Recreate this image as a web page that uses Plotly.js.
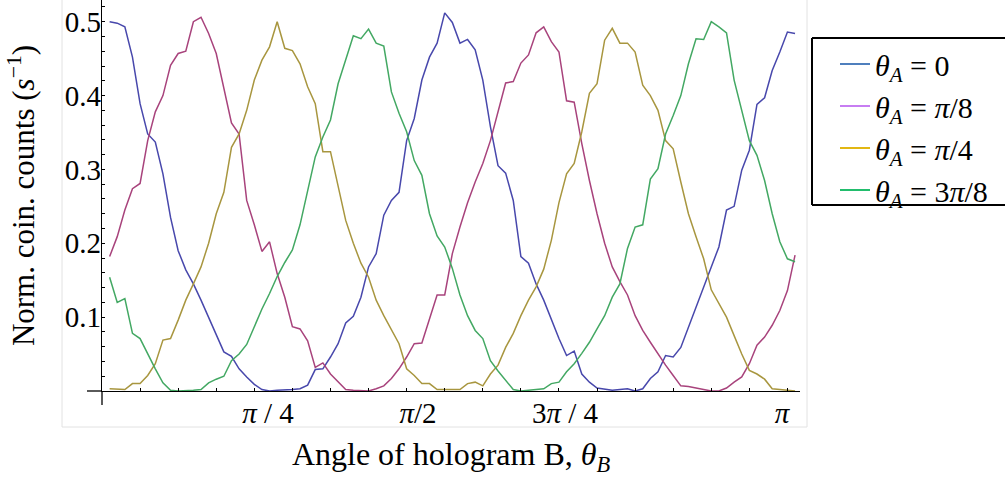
<!DOCTYPE html>
<html>
<head>
<meta charset="utf-8">
<script src="https://cdn.plot.ly/plotly-3.0.1.min.js"></script>
<style>
  html, body { margin: 0; padding: 0; background: #fff; }
  #chart { width: 1005px; height: 484px; }
</style>
</head>
<body>
<div id="chart"></div>
<script>
// Hologram B angle (degrees), one reading every 2 degrees
const thetaB = [
  2, 4, 6, 8, 10, 12, 14, 16, 18, 20, 22, 24, 26, 28, 30, 32, 34, 36, 38, 40,
  42, 44, 46, 48, 50, 52, 54, 56, 58, 60, 62, 64, 66, 68, 70, 72, 74, 76, 78, 80,
  82, 84, 86, 88, 90, 92, 94, 96, 98, 100, 102, 104, 106, 108, 110, 112, 114, 116, 118, 120,
  122, 124, 126, 128, 130, 132, 134, 136, 138, 140, 142, 144, 146, 148, 150, 152, 154, 156, 158, 160,
  162, 164, 166, 168, 170, 172, 174, 176, 178, 180, 182
];

// Normalised coincidence counts for each setting of hologram A
const countsA0 = [
  0.500, 0.498, 0.493, 0.452, 0.389, 0.348, 0.337, 0.294, 0.235, 0.190,
  0.164, 0.145, 0.123, 0.100, 0.075, 0.053, 0.047, 0.030, 0.019, 0.009,
  0.002, 0.000, 0.001, 0.001, 0.002, 0.003, 0.008, 0.029, 0.030, 0.046,
  0.064, 0.092, 0.101, 0.127, 0.168, 0.186, 0.238, 0.258, 0.269, 0.339,
  0.369, 0.421, 0.452, 0.471, 0.512, 0.499, 0.471, 0.476, 0.462, 0.421,
  0.358, 0.305, 0.295, 0.258, 0.182, 0.173, 0.145, 0.123, 0.096, 0.071,
  0.048, 0.054, 0.023, 0.012, 0.004, 0.002, 0.001, 0.002, 0.003, 0.000,
  0.003, 0.017, 0.026, 0.048, 0.046, 0.059, 0.087, 0.114, 0.141, 0.168,
  0.195, 0.245, 0.250, 0.299, 0.326, 0.388, 0.397, 0.434, 0.459, 0.486,
  0.484
];
const countsA1 = [
  0.182, 0.209, 0.245, 0.274, 0.281, 0.339, 0.378, 0.400, 0.441, 0.457,
  0.460, 0.500, 0.506, 0.484, 0.457, 0.412, 0.363, 0.348, 0.258, 0.225,
  0.189, 0.202, 0.159, 0.127, 0.087, 0.084, 0.068, 0.032, 0.038, 0.023,
  0.012, 0.002, 0.001, 0.001, 0.000, 0.003, 0.007, 0.017, 0.030, 0.046,
  0.064, 0.065, 0.096, 0.130, 0.130, 0.186, 0.222, 0.255, 0.283, 0.308,
  0.339, 0.380, 0.417, 0.419, 0.444, 0.455, 0.485, 0.493, 0.473, 0.459,
  0.393, 0.391, 0.335, 0.285, 0.240, 0.200, 0.168, 0.148, 0.130, 0.102,
  0.082, 0.066, 0.050, 0.035, 0.021, 0.007, 0.006, 0.004, 0.002, 0.000,
  0.000, 0.004, 0.012, 0.019, 0.037, 0.062, 0.073, 0.089, 0.109, 0.136,
  0.184
];
const countsA2 = [
  0.003, 0.002, 0.002, 0.010, 0.010, 0.021, 0.037, 0.069, 0.071, 0.096,
  0.123, 0.145, 0.168, 0.200, 0.240, 0.269, 0.330, 0.348, 0.380, 0.421,
  0.448, 0.466, 0.500, 0.464, 0.461, 0.443, 0.412, 0.389, 0.324, 0.324,
  0.276, 0.231, 0.200, 0.173, 0.154, 0.123, 0.102, 0.084, 0.064, 0.030,
  0.021, 0.010, 0.010, 0.002, 0.002, 0.001, 0.002, 0.010, 0.012, 0.007,
  0.023, 0.035, 0.059, 0.078, 0.102, 0.123, 0.141, 0.165, 0.204, 0.255,
  0.294, 0.308, 0.351, 0.403, 0.416, 0.475, 0.491, 0.471, 0.471, 0.459,
  0.414, 0.400, 0.380, 0.339, 0.328, 0.283, 0.240, 0.209, 0.179, 0.137,
  0.118, 0.100, 0.075, 0.050, 0.028, 0.023, 0.016, 0.003, 0.002, 0.001,
  0.000
];
const countsA3 = [
  0.154, 0.120, 0.125, 0.078, 0.071, 0.050, 0.030, 0.011, 0.001, 0.000,
  0.000, 0.001, 0.002, 0.011, 0.016, 0.020, 0.041, 0.050, 0.063, 0.087,
  0.111, 0.132, 0.155, 0.174, 0.191, 0.225, 0.270, 0.317, 0.344, 0.367,
  0.416, 0.448, 0.481, 0.477, 0.490, 0.471, 0.467, 0.405, 0.376, 0.351,
  0.312, 0.292, 0.240, 0.210, 0.195, 0.166, 0.130, 0.102, 0.082, 0.071,
  0.041, 0.027, 0.014, 0.002, 0.000, 0.001, 0.001, 0.003, 0.010, 0.012,
  0.026, 0.037, 0.051, 0.066, 0.084, 0.102, 0.127, 0.145, 0.193, 0.222,
  0.225, 0.287, 0.301, 0.348, 0.373, 0.400, 0.443, 0.477, 0.476, 0.500,
  0.493, 0.485, 0.421, 0.378, 0.339, 0.319, 0.285, 0.240, 0.202, 0.179,
  0.175
];

const seriesNames = [
  '<i>θ</i><sub><i>A</i></sub> = 0',
  '<i>θ</i><sub><i>A</i></sub> = <i>π</i>/8',
  '<i>θ</i><sub><i>A</i></sub> = <i>π</i>/4',
  '<i>θ</i><sub><i>A</i></sub> = 3<i>π</i>/8'
];
const seriesData = [countsA0, countsA1, countsA2, countsA3];
const lineColors = ['#4848ac', '#a8437c', '#a8963f', '#43a863'];
const legendColors = ['#4f7fbd', '#c77df2', '#e2b713', '#22bd6d'];

// Angle tick labels and their positions on the axis
const xLabelPos = [43.6, 83.0, 121.6, 178.6];
const xLabelText = ['<i>π</i> / 4', '<i>π</i>/2', '3<i>π</i> / 4', '<i>π</i>'];
const xMinorTicks = [10, 20, 30, 40, 50, 60, 70, 80, 90, 100, 110, 120, 130, 140, 150, 160, 170, 180];
const yTickVals = [0.1, 0.2, 0.3, 0.4, 0.5];
const yTickText = ['0.1', '0.2', '0.3', '0.4', '0.5'];
const yMinorTicks = [0.02, 0.04, 0.06, 0.08, 0.12, 0.14, 0.16, 0.18, 0.22, 0.24, 0.26, 0.28,
                     0.32, 0.34, 0.36, 0.38, 0.42, 0.44, 0.46, 0.48, 0.52];

const serif = 'Liberation Serif, Times New Roman, serif';

const traces = [];
seriesData.forEach((ys, i) => {
  traces.push({
    x: thetaB, y: ys, type: 'scatter', mode: 'lines',
    line: { color: lineColors[i], width: 1.5 },
    showlegend: false, hoverinfo: 'skip'
  });
});
// legend keys
seriesNames.forEach((name, i) => {
  traces.push({
    x: [null], y: [null], type: 'scatter', mode: 'lines', name: name,
    legendgroup: 'g' + i,
    line: { color: legendColors[i], width: 2 },
    showlegend: true
  });
});

// plot area: left edge is the vertical axis, bottom edge the horizontal axis
const L = 102, R = 800, T = 0, B = 391;
const W = R - L, H = B - T;
const px = v => (v - L) / W;      // page x -> paper x
const py = v => (B - v) / H;      // page y -> paper y

const boxLine = { color: '#000', width: 2 };

const layout = {
  width: 1005, height: 484,
  margin: { l: L, r: 1005 - R, t: T, b: 484 - B },
  paper_bgcolor: '#ffffff', plot_bgcolor: '#ffffff',
  font: { family: serif, size: 29, color: '#000' },
  showlegend: true,
  xaxis: {
    range: [0, 183.3],
    showline: true, linecolor: '#000', linewidth: 1.3,
    showgrid: false, zeroline: false,
    tickmode: 'array', tickvals: xLabelPos, ticktext: xLabelText,
    ticks: '', ticklabelstandoff: -4,
    tickfont: { family: serif, size: 29, color: '#000' },
    minor: { tickmode: 'array', tickvals: xMinorTicks, ticks: 'inside', ticklen: 3,
             tickwidth: 1, tickcolor: '#000', showgrid: false },
    title: { text: 'Angle of hologram B, <i>θ</i><sub><i>B</i></sub>',
             font: { family: serif, size: 32, color: '#000' }, standoff: 14 }
  },
  yaxis: {
    range: [0, 0.5294],
    showline: true, linecolor: '#000', linewidth: 1.3,
    showgrid: false, zeroline: false,
    tickmode: 'array', tickvals: yTickVals, ticktext: yTickText,
    ticks: 'inside', ticklen: 3, tickwidth: 1, tickcolor: '#000',
    ticklabelstandoff: -6,
    tickfont: { family: serif, size: 29, color: '#000' },
    minor: { tickmode: 'array', tickvals: yMinorTicks, ticks: 'inside', ticklen: 3,
             tickwidth: 1, tickcolor: '#000', showgrid: false },
    title: { text: 'Norm. coin. counts (<i>s</i><sup>−1</sup>)',
             font: { family: serif, size: 31, color: '#000' }, standoff: 20 }
  },
  legend: {
    xref: 'container', yref: 'container',
    x: 835 / 1005, y: 1 - 38 / 484, xanchor: 'left', yanchor: 'top',
    bgcolor: 'rgba(0,0,0,0)', borderwidth: 0,
    font: { family: serif, size: 30, color: '#000' },
    tracegroupgap: 0
  },
  shapes: [
    // frame around the figure
    { type: 'rect', xref: 'paper', yref: 'paper',
      x0: px(62), x1: px(807), y0: py(427), y1: py(-10),
      line: { color: '#e2e2e2', width: 1 }, layer: 'below' },
    // axes continue a little past the origin
    { type: 'line', xref: 'paper', yref: 'paper',
      x0: px(87), x1: 0, y0: 0, y1: 0, line: { color: '#000', width: 1.3 } },
    { type: 'line', xref: 'paper', yref: 'paper',
      x0: 0, x1: 0, y0: py(405), y1: 0, line: { color: '#000', width: 1.3 } },
    // legend frame, open on the right where it runs off the page
    { type: 'line', xref: 'paper', yref: 'paper',
      x0: px(812), x1: px(1006), y0: py(38), y1: py(38), line: boxLine },
    { type: 'line', xref: 'paper', yref: 'paper',
      x0: px(812), x1: px(1006), y0: py(205), y1: py(205), line: boxLine },
    { type: 'line', xref: 'paper', yref: 'paper',
      x0: px(812), x1: px(812), y0: py(205), y1: py(38), line: boxLine }
  ]
};

Plotly.newPlot('chart', traces, layout, { displayModeBar: false, staticPlot: true });
</script>
</body>
</html>
